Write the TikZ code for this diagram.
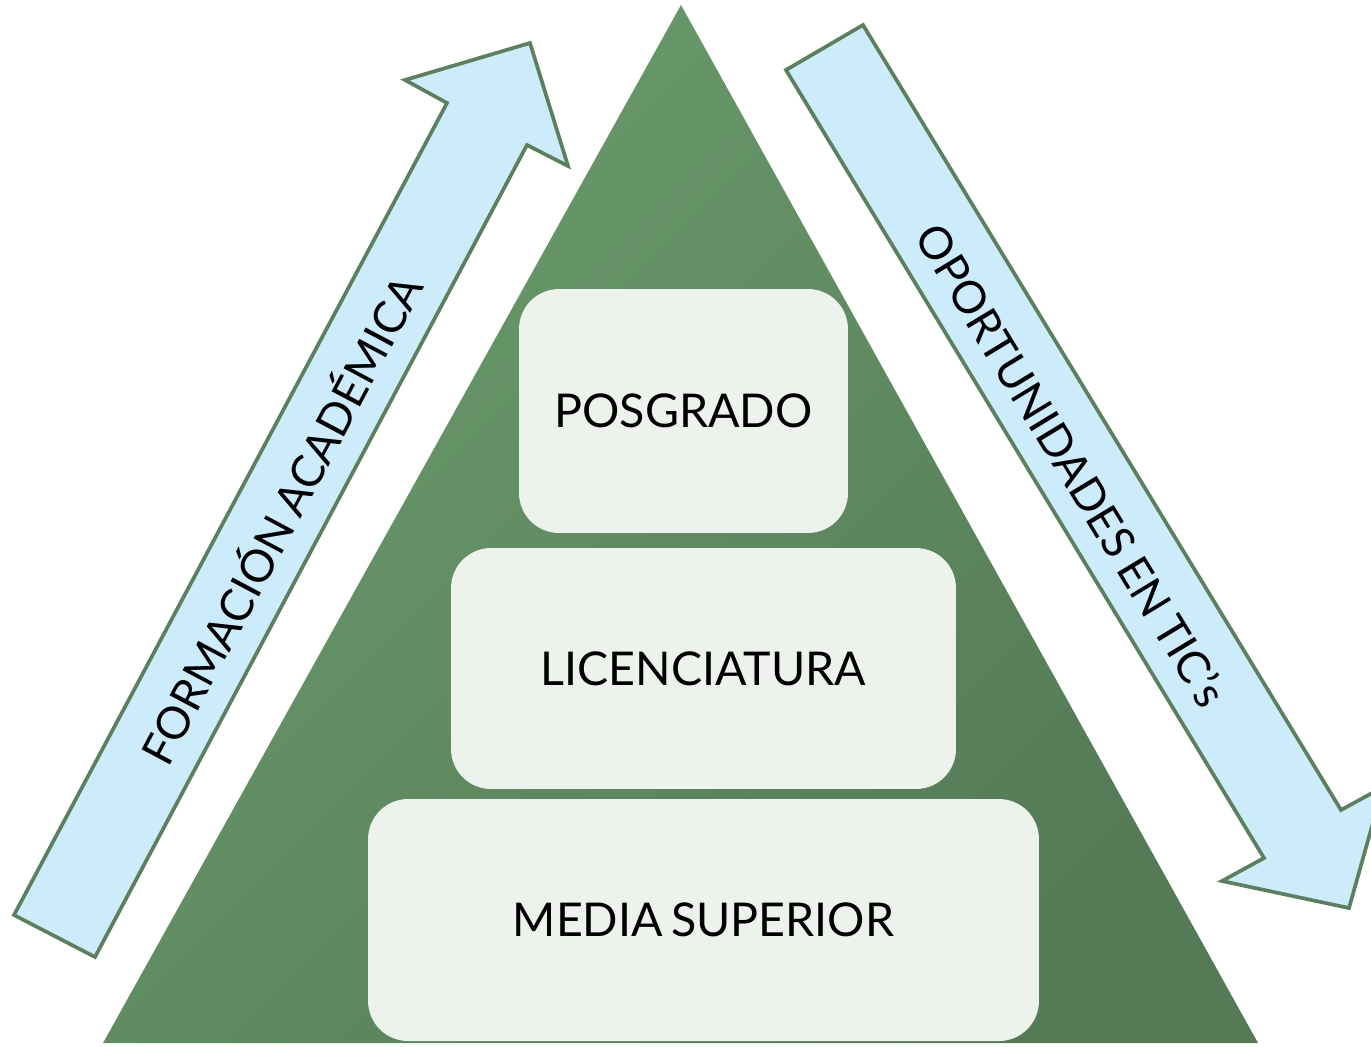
\documentclass[tikz,border=0pt]{standalone}
\usepackage{fontspec}
\setmainfont{Lato}
\definecolor{verdepir}{RGB}{106,156,108}
\definecolor{verdeosc}{RGB}{84,122,86}
\definecolor{azulflecha}{RGB}{204,235,251}
\definecolor{bordeflecha}{RGB}{92,128,92}
\definecolor{fondocaja}{RGB}{237,243,236}
\tikzset{
  flecha/.style={fill=azulflecha, draw=bordeflecha, line width=2.1pt},
  nivel/.style={rectangle, rounded corners=0.8cm, fill=fondocaja, inner sep=0pt, font=\fontsize{26.5}{30}\selectfont},
  rotulo/.style={inner sep=0pt, font=\fontsize{25.5}{30}\selectfont}
}
\begin{document}
\begin{tikzpicture}[x=0.02cm, y=-0.02cm]
    \useasboundingbox (0,0) rectangle (1371,1046);

    % Piramide
    \shade[top color=verdepir, middle color=verdepir!92!verdeosc, bottom color=verdeosc, shading angle=45] (681,5) -- (1258,1043) -- (103,1043) -- cycle;

    % Niveles
    \node[nivel, minimum width=6.58cm, minimum height=4.88cm] (posgrado) at (683.5,411) {POSGRADO};
    \node[nivel, minimum width=10.1cm, minimum height=4.82cm] (licenciatura) at (703.5,668.5) {LICENCIATURA};
    \node[nivel, minimum width=13.42cm, minimum height=4.84cm] (media) at (703.5,920) {MEDIA\hspace{0.18em}SUPERIOR};

    % Flechas
    \draw[flecha] (14,915) -- (447,103) -- (405,80) -- (530,43) -- (568,166) -- (527,145) -- (95,957) -- cycle;
    \draw[flecha] (786,70) -- (1264,858) -- (1222,881) -- (1349,908) -- (1383,787) -- (1341,810) -- (863,25) -- cycle;

    \node[rotulo, rotate=62] (formacion) at (278,518) {FORMACIÓN\hspace{0.2em}ACADÉMICA};
    \node[rotulo, rotate=-58.7] (oportunidades) at (1072,465) {OPORTUNIDADES\hspace{0.2em}EN\hspace{0.2em}TIC's};

\end{tikzpicture}
\end{document}
